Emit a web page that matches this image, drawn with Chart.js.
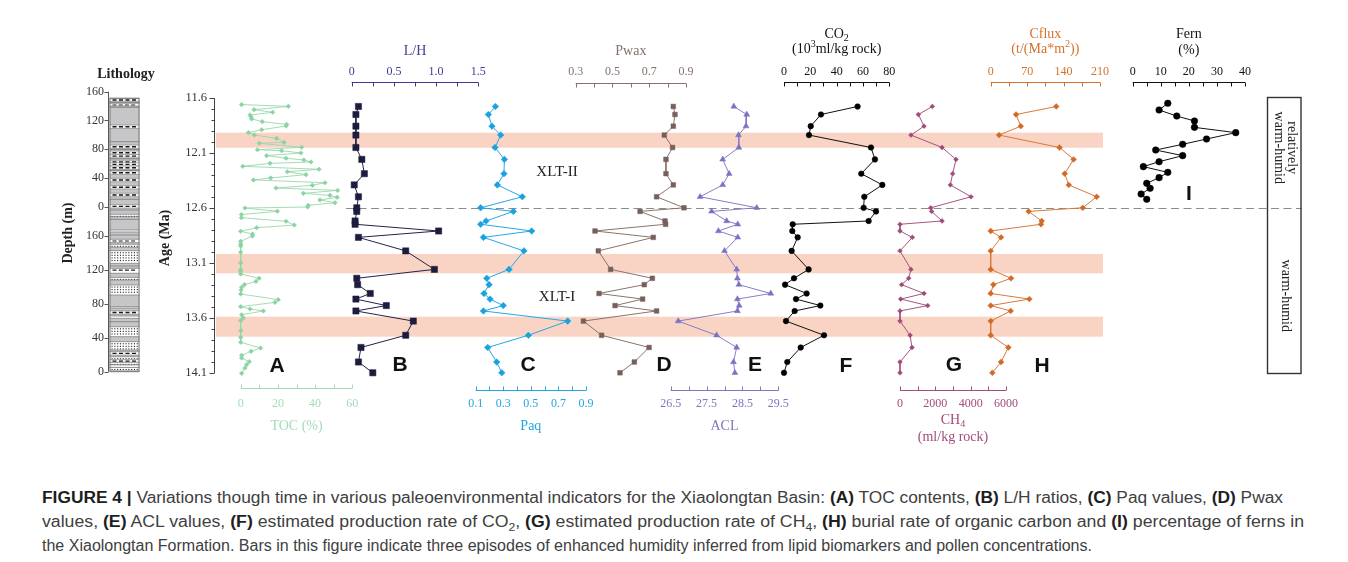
<!DOCTYPE html>
<html><head><meta charset="utf-8">
<script src="https://cdn.jsdelivr.net/npm/chart.js@4.4.1/dist/chart.umd.min.js"></script>
<style>
html,body{margin:0;padding:0;background:#fff;}
body{width:1348px;height:562px;overflow:hidden;position:relative;}
#c{position:absolute;left:0;top:0;}
.cap{position:absolute;left:42px;font-family:"Liberation Sans",Arial,sans-serif;font-size:16px;line-height:20px;color:#404040;white-space:nowrap;transform-origin:0 50%;}
.cap b{color:#1e1e1e;}
.cap sub{font-size:11px;line-height:0;}
</style></head><body>
<canvas id="c" width="1348" height="470"></canvas>
<div class="cap" id="cap1" style="top:488px"><b>FIGURE 4 |</b> Variations though time in various paleoenvironmental indicators for the Xiaolongtan Basin: <b>(A)</b> TOC contents, <b>(B)</b> L/H ratios, <b>(C)</b> Paq values, <b>(D)</b> Pwax</div>
<div class="cap" id="cap2" style="top:512px">values, <b>(E)</b> ACL values, <b>(F)</b> estimated production rate of CO<sub>2</sub>, <b>(G)</b> estimated production rate of CH<sub>4</sub>, <b>(H)</b> burial rate of organic carbon and <b>(I)</b> percentage of ferns in</div>
<div class="cap" id="cap3" style="top:536px">the Xiaolongtan Formation. Bars in this figure indicate three episodes of enhanced humidity inferred from lipid biomarkers and pollen concentrations.</div>
<script>
// ================= DATA =================
const ageTicks = [11.6, 12.1, 12.6, 13.1, 13.6, 14.1];
const ageTickLabels = ['11.6', '12.1', '12.6', '13.1', '13.6', '14.1'];
const humidBands = [[11.915, 12.052], [13.018, 13.194], [13.588, 13.770]];
const boundaryAge = 12.6;
const unitLabels = ['XLT-II', 'XLT-I'];
const climateLabels = [['relatively', 'warm-humid'], ['warm-humid']];

const depthTicks = [160, 120, 80, 40, 0];
const depthTickLabels = ['160', '120', '80', '40', '0'];
// lithology layers: [top depth, bottom depth, type]  (m: mudstone dash line, l: bed line, t: siltstone, s: sandstone)
const lithoUpper = [[148.5,148.5,'m'],[145.2,145.2,'l'],[143.9,140.1,'t'],[138.3,138.3,'l'],[111.3,111.3,'m'],[90.4,90.4,'l'],
  [83.4,83.4,'m'],[79.7,79.7,'l'],[75.1,75.1,'m'],[70.4,70.4,'m'],[66.7,66.7,'l'],[62.1,62.1,'m'],[58.9,58.9,'m'],[54.2,54.2,'m'],
  [50.5,50.5,'l'],[47.3,47.3,'m'],[37.1,37.1,'m'],[27,27,'m'],[16.3,16.3,'m'],[10.3,10.3,'l'],[0.5,0.5,'m']];
const lithoLower = [[190.2,190.2,'l'],[185.2,182.4,'s'],[179.3,179.3,'l'],[166.7,164.4,'s'],[160.8,160.8,'l'],[155.8,151.8,'t'],
  [149.9,146.4,'s'],[142.4,127.5,'s'],[124.4,124.4,'l'],[121.6,115.8,'t'],[111,107.9,'s'],[102,90.2,'s'],[76.5,74.9,'s'],
  [70.6,68.7,'m'],[65.5,62.8,'s'],[58.8,58.8,'l'],[52.9,41.2,'s'],[35.3,25.5,'s'],[23.5,19.6,'m'],[17.6,14,'s'],[14,11,'m'],
  [11,8,'s'],[8,5,'t'],[5,1,'s']];

// (A) TOC (%)
const ageTOC = [11.66,11.676,11.706,11.73,11.755,11.773,11.79,11.815,11.84,11.855,11.888,11.915,11.936,11.967,12.003,12.012,
  12.048,12.07,12.079,12.1,12.124,12.148,12.164,12.182,12.194,12.221,12.248,12.27,12.297,12.327,12.345,12.37,12.394,12.418,
  12.44,12.467,12.485,12.503,12.527,12.552,12.576,12.591,12.6,12.63,12.66,12.688,12.721,12.755,12.779,12.812,12.836,12.855,
  12.903,12.927,12.945,13.003,13.1,13.16,13.176,13.2,13.239,13.267,13.297,13.321,13.345,13.382,13.433,13.458,13.497,13.518,
  13.536,13.57,13.6,13.624,13.715,13.776,13.821,13.873,13.903,13.939,13.964,13.997,14.024,14.055,14.103];
const toc = [0.5,25.6,7.2,17.2,5.0,5.6,5.9,11.6,24.7,24.4,11.3,4.1,7.3,19.3,23.3,10.0,32.8,9.0,22.0,32.4,13.9,24.4,34.0,37.8,
  15.8,1.1,42.1,25.1,35.1,16.1,6.8,45.3,38.5,19.0,52.1,33.7,48.0,51.9,42.6,50.7,36.3,36.0,2.3,19.7,0.4,0.4,24.4,28.8,8.6,0,
  6.4,6.3,0,0,0,0,0,0,0,0,9.9,8.2,2.0,0.5,0.2,0,20.2,18.4,0,5.0,12.2,0.5,1.4,0,0,0,0,10.7,5.6,0.5,0.5,4.6,3.2,2.3,0.5];

// samples shared by panels B-H (Ma)
const sampleAge = [11.677,11.75,11.856,11.937,12.05,12.158,12.288,12.39,12.498,12.598,12.631,12.718,12.748,12.809,12.867,
  12.99,13.158,13.239,13.297,13.377,13.428,13.487,13.536,13.628,13.757,13.868,14.0,14.098];
const lh = [0.08,0.05,0.05,0.05,0.05,0.12,0.15,0.03,0.08,0.06,0.06,0.04,0.04,1.03,0.08,0.64,0.98,0.06,0.07,0.22,0.05,0.41,0.05,0.73,0.64,0.11,0.08,0.25];
const paq = [0.243,0.192,0.218,0.281,0.240,0.308,0.305,0.257,0.438,0.136,0.373,0.175,0.136,0.506,0.156,0.45,0.342,0.18,0.197,0.16,0.204,0.30,0.156,0.767,0.482,0.187,0.252,0.289];
const pwax = [0.831,0.840,0.831,0.782,0.827,0.791,0.791,0.831,0.740,0.889,0.650,0.786,0.789,0.405,0.722,0.423,0.490,0.717,0.673,0.427,0.664,0.514,0.740,0.342,0.441,0.699,0.619,0.541];
const acl = [28.26,28.62,28.60,28.39,28.40,27.95,28.13,27.95,27.32,28.90,27.64,28.06,28.37,27.83,28.37,28.00,28.34,28.36,28.40,29.29,28.36,28.41,28.36,26.71,27.78,28.34,28.25,28.29];
const co2 = [55.9,28.1,20.3,19.0,66.1,69.1,58.7,74.7,61.0,60.5,69.9,64.3,6.6,6.3,10.4,5.8,18.7,7.6,0.8,17.2,9.1,27.6,8.1,1.5,30.4,12.7,2.5,0];
const ch4 = [1830,1040,1360,620,2380,3170,2980,2850,4020,1740,1790,2380,0,0,700,0,620,490,90,1360,40,1570,0,0,570,680,0,0];
const cflux = [125.9,48.7,57.8,16.1,132.3,159.3,142.2,149.9,203.7,176.8,73.0,98.0,96.7,0,19.9,0,0,39.1,5.1,0,74.3,0,38.4,0,0,33.9,19.9,3.2];

// (I) Fern (%)
const ageFern = [11.648,11.709,11.764,11.809,11.867,11.915,11.973,12.021,12.073,12.124,12.179,12.224,12.276,12.324,12.376,12.421,12.473,12.521];
const fern = [12.5,9.4,15.7,22.0,22.0,36.7,26.3,17.8,8.2,17.8,9.4,3.8,12.5,9.4,5.0,6.2,3.0,5.0];

// axis tick values / labels
const tocTicks = [0,20,40,60], tocTickLabels = ['0','20','40','60'];
const lhTicks = [0,0.5,1,1.5], lhTickLabels = ['0','0.5','1.0','1.5'];
const paqTicks = [0.1,0.3,0.5,0.7,0.9], paqTickLabels = ['0.1','0.3','0.5','0.7','0.9'];
const pwaxTicks = [0.3,0.5,0.7,0.9], pwaxTickLabels = ['0.3','0.5','0.7','0.9'];
const aclTicks = [26.5,27.5,28.5,29.5], aclTickLabels = ['26.5','27.5','28.5','29.5'];
const co2Ticks = [0,20,40,60,80], co2TickLabels = ['0','20','40','60','80'];
const ch4Ticks = [0,2000,4000,6000], ch4TickLabels = ['0','2000','4000','6000'];
const cfluxTicks = [0,70,140,210], cfluxTickLabels = ['0','70','140','210'];
const fernTicks = [0,10,20,30,40], fernTickLabels = ['0','10','20','30','40'];

// ================= LAYOUT / STYLE =================
const area = {L:214, R:1310, T:98, B:373};
const SERIF = '"Liberation Serif","DejaVu Serif",serif';
const SANS = '"Liberation Sans",Arial,sans-serif';
const panels = [
  {id:'xA', letter:'A', lx:277, ly:366, ages:ageTOC, vals:toc, v0:0, p0:240.7, v1:60, p1:352.3, axY:388, side:'bottom',
   ticks:tocTicks, labels:tocTickLabels, minor:10, ax:'#a3dbb7', line:'#98d8ac', mk:'#8bd3a2', ps:'rectRot', pr:2.3, lw:0.9,
   title:[[{t:'TOC (%)'}]], titleY:[426]},
  {id:'xB', letter:'B', lx:400, ly:365, ages:sampleAge, vals:lh, v0:0, p0:351.7, v1:1.5, p1:478.3, axY:82, side:'top',
   ticks:lhTicks, labels:lhTickLabels, minor:0.25, ax:'#3d3d96', line:'#23234a', mk:'#1c1d3e', ps:'rect', pr:4.4, lw:1,
   title:[[{t:'L/H'}]], titleY:[51]},
  {id:'xC', letter:'C', lx:528, ly:365, ages:sampleAge, vals:paq, v0:0.1, p0:475.7, v1:0.9, p1:586, axY:390, side:'bottom',
   ticks:paqTicks, labels:paqTickLabels, minor:0.1, ax:'#21a6e0', line:'#27a8e2', mk:'#1aa2df', ps:'rectRot', pr:3.3, lw:1,
   title:[[{t:'Paq'}]], titleY:[426]},
  {id:'xD', letter:'D', lx:664, ly:365, ages:sampleAge, vals:pwax, v0:0.3, p0:575.7, v1:0.9, p1:686, axY:83, side:'top',
   ticks:pwaxTicks, labels:pwaxTickLabels, minor:0.1, ax:'#85706a', line:'#8a746c', mk:'#76615a', ps:'rect', pr:3.3, lw:1,
   title:[[{t:'Pwax'}]], titleY:[51]},
  {id:'xE', letter:'E', lx:755, ly:365, ages:sampleAge, vals:acl, v0:26.5, p0:670.7, v1:29.5, p1:778.3, axY:390, side:'bottom',
   ticks:aclTicks, labels:aclTickLabels, minor:0.5, ax:'#7d76c3', line:'#857ec8', mk:'#7a72c2', ps:'triangle', pr:3.4, lw:1,
   title:[[{t:'ACL'}]], titleY:[426]},
  {id:'xF', letter:'F', lx:846, ly:366, ages:sampleAge, vals:co2, v0:0, p0:784, v1:80, p1:889.3, axY:82, side:'top',
   ticks:co2Ticks, labels:co2TickLabels, minor:10, ax:'#111', line:'#111', mk:'#000', ps:'circle', pr:2.8, lw:1,
   title:[[{t:'CO'},{t:'2',sub:1}],[{t:'(10'},{t:'3',sup:1},{t:'ml/kg rock)'}]], titleY:[34,49]},
  {id:'xG', letter:'G', lx:954, ly:365, ages:sampleAge, vals:ch4, v0:0, p0:900, v1:6000, p1:1006, axY:390, side:'bottom',
   ticks:ch4Ticks, labels:ch4TickLabels, minor:1000, ax:'#a34c7d', line:'#a65581', mk:'#a04a7b', ps:'rectRot', pr:2.4, lw:1,
   title:[[{t:'CH'},{t:'4',sub:1}],[{t:'(ml/kg rock)'}]], titleY:[420,437]},
  {id:'xH', letter:'H', lx:1042, ly:366, ages:sampleAge, vals:cflux, v0:0, p0:990.7, v1:210, p1:1100, axY:82, side:'top',
   ticks:cfluxTicks, labels:cfluxTickLabels, minor:35, ax:'#d4712e', line:'#d97a3a', mk:'#d16a26', ps:'rectRot', pr:2.9, lw:1,
   title:[[{t:'Cflux'}],[{t:'(t/(Ma*m'},{t:'2',sup:1},{t:'))'}]], titleY:[34,49]},
  {id:'xI', letter:'I', lx:1189, ly:194, ages:ageFern, vals:fern, v0:0, p0:1132.7, v1:40, p1:1245, axY:82, side:'top',
   ticks:fernTicks, labels:fernTickLabels, minor:5, ax:'#111', line:'#111', mk:'#000', ps:'circle', pr:3.3, lw:1,
   title:[[{t:'Fern'}],[{t:'(%)'}]], titleY:[34,50]}
];

function span(v0,p0,v1,p1,a,b){const k=(v1-v0)/(p1-p0);return [v0+(a-p0)*k, v0+(b-p0)*k];}

const scales = {
  age:{type:'linear', axis:'y', display:false, reverse:true, min:ageTicks[0], max:ageTicks[ageTicks.length-1], bounds:'data'}
};
panels.forEach(p=>{const [mn,mx]=span(p.v0,p.p0,p.v1,p.p1,area.L,area.R);
  scales[p.id]={type:'linear', axis:'x', display:false, min:mn, max:mx, bounds:'data'};});
{ const [mn,mx]=span(0,206.7,160,91.7,area.B,area.T); scales.dU={type:'linear',axis:'y',display:false,min:mn,max:mx,bounds:'data'}; }
{ const [mn,mx]=span(0,371.7,160,235.7,area.B,area.T); scales.dL={type:'linear',axis:'y',display:false,min:mn,max:mx,bounds:'data'}; }
{ const [mn,mx]=span(0,109.5,1,139.5,area.L,area.R); scales.xLith={type:'linear',axis:'x',display:false,min:mn,max:mx,bounds:'data'}; }

const datasets = panels.map(p=>({
  label:p.letter, xAxisID:p.id, yAxisID:'age',
  data:p.ages.map((a,i)=>({x:p.vals[i], y:a})),
  showLine:true, tension:0, clip:false,
  borderColor:p.line, borderWidth:p.lw,
  pointStyle:p.ps, pointRadius:p.pr, pointBackgroundColor:p.mk, pointBorderColor:p.mk, pointBorderWidth:0.5
}));

function richText(ctx, segs, cx, cy, size, color){
  const fonts = segs.map(s=> (s.sub||s.sup) ? Math.round(size*0.68)+'px '+SERIF : size+'px '+SERIF);
  let w=0; segs.forEach((s,i)=>{ctx.font=fonts[i]; w+=ctx.measureText(s.t).width;});
  let x=cx-w/2; ctx.fillStyle=color; ctx.textAlign='left'; ctx.textBaseline='middle';
  segs.forEach((s,i)=>{ctx.font=fonts[i]; const dy = s.sub? size*0.3 : s.sup? -size*0.35 : 0;
    ctx.fillText(s.t,x,cy+dy); x+=ctx.measureText(s.t).width;});
}

function drawLitho(ctx, chart){
  const xs=chart.scales.xLith, x0=xs.getPixelForValue(0), x1=xs.getPixelForValue(1), w=x1-x0;
  const sU=chart.scales.dU, sL=chart.scales.dL;
  const yTop=sU.getPixelForValue(150.8), yBot=sL.getPixelForValue(0);
  ctx.fillStyle='#c6c6c9'; ctx.fillRect(x0,yTop,w,yBot-yTop);
  const layer=(s,[a,b,t])=>{
    const ya=s.getPixelForValue(a), yb=s.getPixelForValue(b);
    if(t==='l'){ctx.strokeStyle='#7a7a7a';ctx.lineWidth=0.8;ctx.beginPath();ctx.moveTo(x0,ya);ctx.lineTo(x1,ya);ctx.stroke();return;}
    if(t==='m'){const y=(ya+yb)/2;
      ctx.fillStyle='#f2f2f2'; ctx.fillRect(x0,y-1.5,w,3);
      ctx.strokeStyle='#888';ctx.lineWidth=0.6;ctx.beginPath();ctx.moveTo(x0,y-1.8);ctx.lineTo(x1,y-1.8);ctx.moveTo(x0,y+1.8);ctx.lineTo(x1,y+1.8);ctx.stroke();
      ctx.strokeStyle='#1a1a1a';ctx.lineWidth=1.4;ctx.setLineDash([4,2.5]);ctx.beginPath();ctx.moveTo(x0+3,y);ctx.lineTo(x1-2,y);ctx.stroke();ctx.setLineDash([]);return;}
    ctx.fillStyle='#fff'; ctx.fillRect(x0,ya,w,yb-ya);
    ctx.fillStyle='#222';
    if(t==='s'){ for(let y=ya+1.5;y<yb-0.8;y+=2.6){ for(let x=x0+2;x<x1-1.5;x+=2.8){ctx.fillRect(x,y,1.1,1.1);} } }
    if(t==='t'){ ctx.strokeStyle='#222';ctx.lineWidth=1.1;ctx.setLineDash([4,2.2]);
      for(let y=ya+1.8;y<yb-0.8;y+=3){ctx.beginPath();ctx.moveTo(x0+3,y);ctx.lineTo(x1-3,y);ctx.stroke();} ctx.setLineDash([]);}
    ctx.strokeStyle='#777';ctx.lineWidth=0.7;ctx.beginPath();ctx.moveTo(x0,ya);ctx.lineTo(x1,ya);ctx.moveTo(x0,yb);ctx.lineTo(x1,yb);ctx.stroke();
  };
  lithoUpper.forEach(l=>layer(sU,l));
  lithoLower.forEach(l=>layer(sL,l));
  ctx.strokeStyle='#777'; ctx.lineWidth=1; ctx.strokeRect(x0+0.5,yTop,w-1,yBot-yTop);
  // depth axis
  const ax=108.5;
  ctx.strokeStyle='#555'; ctx.lineWidth=1; ctx.beginPath();
  ctx.moveTo(ax, sU.getPixelForValue(160)); ctx.lineTo(ax, yBot);
  [sU,sL].forEach(s=>depthTicks.forEach(d=>{const y=Math.round(s.getPixelForValue(d))+0.5; ctx.moveTo(ax-4,y); ctx.lineTo(ax,y);}));
  ctx.stroke();
  ctx.fillStyle='#333'; ctx.font='12px '+SERIF; ctx.textAlign='right'; ctx.textBaseline='middle';
  [sU,sL].forEach(s=>depthTicks.forEach((d,i)=>ctx.fillText(depthTickLabels[i], 104, s.getPixelForValue(d))));
}

const overlay = {
  id:'overlay',
  beforeDatasetsDraw(chart){
    const ctx=chart.ctx, ya=chart.scales.age;
    ctx.save();
    ctx.fillStyle='#f9d3c3';
    humidBands.forEach(([a,b])=>{const y0=ya.getPixelForValue(a), y1=ya.getPixelForValue(b); ctx.fillRect(216,y0,1103-216,y1-y0);});
    const yd=Math.round(ya.getPixelForValue(boundaryAge))+0.5;
    ctx.strokeStyle='#8c8c8c'; ctx.lineWidth=1.2; ctx.setLineDash([8,4.5]);
    ctx.beginPath(); ctx.moveTo(346,yd); ctx.lineTo(1302,yd); ctx.stroke(); ctx.setLineDash([]);
    ctx.restore();
  },
  afterDraw(chart){
    const ctx=chart.ctx, ya=chart.scales.age;
    ctx.save();
    // age axis
    const ax=214.5;
    ctx.strokeStyle='#444'; ctx.lineWidth=1; ctx.beginPath();
    ctx.moveTo(ax, ya.getPixelForValue(ageTicks[0])); ctx.lineTo(ax, ya.getPixelForValue(ageTicks[ageTicks.length-1]));
    for(let i=0;i<=25;i++){const v=ageTicks[0]+i*0.1, y=Math.round(ya.getPixelForValue(v))+0.5, len=(i%5===0)?5:3;
      ctx.moveTo(ax-len,y); ctx.lineTo(ax,y);}
    ctx.stroke();
    ctx.fillStyle='#333'; ctx.font='12.5px '+SERIF; ctx.textAlign='right'; ctx.textBaseline='middle';
    ageTicks.forEach((v,i)=>ctx.fillText(ageTickLabels[i], 207, ya.getPixelForValue(v)));
    // rotated titles
    ctx.font='bold 14px '+SERIF; ctx.fillStyle='#222'; ctx.textAlign='center';
    [['Age (Ma)',165,238],['Depth (m)',68,233]].forEach(([t,x,y])=>{ctx.save();ctx.translate(x,y);ctx.rotate(-Math.PI/2);ctx.fillText(t,0,0);ctx.restore();});
    ctx.fillText('Lithology',126,74);
    drawLitho(ctx, chart);
    // panel axes
    panels.forEach(p=>{
      const s=chart.scales[p.id];
      const a0=p.ticks[0], a1=p.ticks[p.ticks.length-1];
      const x0=s.getPixelForValue(a0), x1=s.getPixelForValue(a1);
      const y=p.axY+0.5, dir=p.side==='top'?1:-1;
      ctx.strokeStyle=p.ax; ctx.lineWidth=1; ctx.beginPath(); ctx.moveTo(x0,y); ctx.lineTo(x1,y);
      const n=Math.round((a1-a0)/p.minor);
      for(let i=0;i<=n;i++){const x=Math.round(s.getPixelForValue(a0+i*p.minor))+0.5; ctx.moveTo(x,y); ctx.lineTo(x,y+dir*4);}
      ctx.stroke();
      ctx.fillStyle=p.ax; ctx.font='12px '+SERIF; ctx.textAlign='center'; ctx.textBaseline='middle';
      const ly=p.side==='top'?72:404;
      p.ticks.forEach((v,i)=>ctx.fillText(p.labels[i], s.getPixelForValue(v), ly));
      const cx=(x0+x1)/2;
      p.title.forEach((segs,i)=>richText(ctx, segs, cx, p.titleY[i], 14, p.ax));
      ctx.fillStyle='#111'; ctx.font='bold 21px '+SANS; ctx.textAlign='center'; ctx.textBaseline='middle';
      ctx.fillText(p.letter, p.lx, p.ly);
    });
    // unit labels
    ctx.fillStyle='#222'; ctx.font='15px '+SERIF; ctx.textAlign='center'; ctx.textBaseline='middle';
    ctx.fillText(unitLabels[0], 557, 172); ctx.fillText(unitLabels[1], 557, 297);
    // climate box
    const yT=ya.getPixelForValue(11.6)-0.5, yB=ya.getPixelForValue(14.1)+0.5, yD=ya.getPixelForValue(boundaryAge);
    ctx.strokeStyle='#333'; ctx.lineWidth=1.4; ctx.strokeRect(1267.5, yT, 33.5, yB-yT);
    ctx.font='14px '+SERIF; ctx.fillStyle='#222';
    const drawRot=(lines,cx,cy)=>{ctx.save();ctx.translate(cx,cy);ctx.rotate(Math.PI/2);
      lines.forEach((t,i)=>ctx.fillText(t,0,(i-(lines.length-1)/2)*13.5));ctx.restore();};
    drawRot(climateLabels[0], 1285, (yT+yD)/2-5);
    drawRot(climateLabels[1], 1285.5, (yD+yB)/2+5);
    ctx.restore();
  }
};

new Chart(document.getElementById('c'), {
  type:'scatter',
  data:{datasets},
  options:{
    responsive:false, animation:false, devicePixelRatio:1, events:[],
    layout:{padding:{left:area.L, right:1348-area.R, top:area.T, bottom:470-area.B}},
    plugins:{legend:{display:false}, tooltip:{enabled:false}},
    scales
  },
  plugins:[overlay]
});

// caption width fitting
const capTargets = {cap1:1241, cap2:1262, cap3:1050};
Object.entries(capTargets).forEach(([id,w])=>{const el=document.getElementById(id); const k=w/el.getBoundingClientRect().width; el.style.transform='scaleX('+k+')';});
</script>
</body></html>
